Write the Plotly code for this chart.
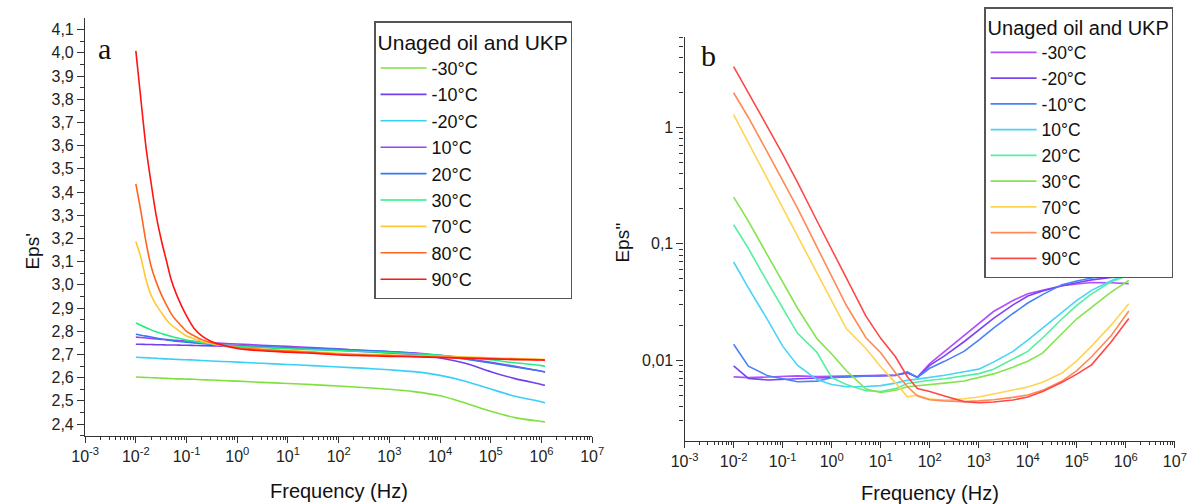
import plotly.graph_objects as go

# ---------------- Panel a : Eps' ----------------
FREQ_A = [0.01, 0.0125, 0.016, 0.02, 0.025, 0.032, 0.04, 0.05, 0.063, 0.08, 0.1, 0.14,
          0.2, 0.3, 0.5, 1, 3, 10, 30, 100, 300, 1000, 3000, 1e4, 3e4, 1e5, 3e5, 1e6, 1.17e6]

A_M30 = [2.603, 2.602, 2.601, 2.600, 2.599, 2.598, 2.597, 2.596, 2.595, 2.595, 2.594, 2.593,
         2.591, 2.590, 2.588, 2.585, 2.580, 2.575, 2.570, 2.564, 2.558, 2.550, 2.540, 2.522,
         2.492, 2.455, 2.428, 2.411, 2.409]
A_M10 = [2.744, 2.744, 2.743, 2.743, 2.742, 2.742, 2.741, 2.741, 2.741, 2.740, 2.740, 2.739,
         2.738, 2.737, 2.736, 2.734, 2.731, 2.727, 2.723, 2.718, 2.713, 2.707, 2.700, 2.685,
         2.663, 2.626, 2.596, 2.571, 2.567]
A_M20 = [2.688, 2.687, 2.686, 2.685, 2.684, 2.682, 2.681, 2.680, 2.679, 2.678, 2.677, 2.676,
         2.674, 2.672, 2.670, 2.667, 2.662, 2.657, 2.652, 2.646, 2.641, 2.634, 2.626, 2.610,
         2.586, 2.551, 2.520, 2.496, 2.491]
A_P10 = [2.775, 2.773, 2.771, 2.769, 2.767, 2.765, 2.764, 2.762, 2.761, 2.759, 2.758, 2.756,
         2.754, 2.751, 2.748, 2.745, 2.740, 2.735, 2.730, 2.724, 2.717, 2.712, 2.707, 2.696,
         2.683, 2.666, 2.649, 2.628, 2.625]
A_P20 = [2.787, 2.783, 2.779, 2.775, 2.771, 2.767, 2.763, 2.760, 2.757, 2.755, 2.753, 2.750,
         2.747, 2.744, 2.741, 2.738, 2.734, 2.730, 2.726, 2.722, 2.718, 2.713, 2.705, 2.695,
         2.681, 2.663, 2.646, 2.628, 2.624]
A_P30 = [2.836, 2.826, 2.815, 2.806, 2.798, 2.790, 2.784, 2.778, 2.772, 2.767, 2.762, 2.757,
         2.751, 2.746, 2.740, 2.735, 2.730, 2.725, 2.721, 2.717, 2.713, 2.708, 2.703, 2.697,
         2.688, 2.677, 2.664, 2.652, 2.649]
A_P70 = [3.187, 3.120, 3.020, 2.955, 2.915, 2.880, 2.850, 2.827, 2.810, 2.793, 2.780, 2.768,
         2.756, 2.748, 2.739, 2.730, 2.723, 2.717, 2.712, 2.705, 2.701, 2.698, 2.695, 2.692,
         2.689, 2.686, 2.682, 2.679, 2.678]
A_P80 = [3.435, 3.320, 3.180, 3.080, 3.015, 2.957, 2.914, 2.875, 2.846, 2.822, 2.800, 2.781,
         2.764, 2.752, 2.741, 2.730, 2.721, 2.715, 2.709, 2.702, 2.698, 2.695, 2.692, 2.689,
         2.686, 2.683, 2.680, 2.677, 2.676]
A_P90 = [4.008, 3.805, 3.586, 3.439, 3.303, 3.190, 3.105, 3.021, 2.960, 2.908, 2.866, 2.813,
         2.780, 2.757, 2.741, 2.726, 2.716, 2.710, 2.705, 2.698, 2.695, 2.692, 2.690, 2.687,
         2.684, 2.681, 2.678, 2.676, 2.675]

A_NAMES = ["-30°C", "-10°C", "-20°C", "10°C", "20°C", "30°C", "70°C", "80°C", "90°C"]
A_SERIES = [A_M30, A_M10, A_M20, A_P10, A_P20, A_P30, A_P70, A_P80, A_P90]
A_COLORS = ["#80e040", "#7040f0", "#38d0f8", "#a040f0", "#3878f0", "#20f080",
            "#ffc830", "#ff6420", "#ff1414"]

# ---------------- Panel b : Eps'' ----------------
FREQ_B = [0.01, 0.02, 0.05, 0.1, 0.2, 0.5, 1, 2, 5, 10, 20, 35, 56, 100, 200, 500,
          1000, 2000, 5000, 1e4, 2e4, 5e4, 1e5, 2e5, 5e5, 1.15e6]

B_M30 = [0.00719, 0.00708, 0.00716, 0.00724, 0.00733, 0.00724, 0.00728, 0.00733, 0.00736,
         0.00741, 0.00746, 0.00776, 0.00716, 0.00933, 0.0119, 0.0163, 0.0207, 0.0262,
         0.0326, 0.0372, 0.0398, 0.0437, 0.0452, 0.0465, 0.0463, 0.0455]
B_M20 = [0.00893, 0.00697, 0.00676, 0.00684, 0.00700, 0.00711, 0.00716, 0.00724, 0.00730,
         0.00733, 0.00738, 0.00785, 0.00708, 0.00902, 0.0109, 0.0144, 0.0182, 0.0229,
         0.0299, 0.0356, 0.0394, 0.0437, 0.0463, 0.0490, 0.0513, 0.0526]
B_M10 = [0.0137, 0.00887, 0.00733, 0.00692, 0.00653, 0.00661, 0.00705, 0.00719, 0.00733,
         0.00738, 0.00741, 0.00794, 0.00710, 0.00851, 0.00977, 0.0119, 0.0149, 0.0189,
         0.0252, 0.0310, 0.0366, 0.0446, 0.0479, 0.0508, 0.0537, 0.0555]
B_P10 = [0.0698, 0.0419, 0.0220, 0.0132, 0.00906, 0.00681, 0.00617, 0.00590, 0.00593,
         0.00604, 0.00635, 0.00673, 0.00687, 0.00708, 0.00743, 0.00796, 0.00837, 0.00962,
         0.0119, 0.0149, 0.0188, 0.0258, 0.0327, 0.0398, 0.0481, 0.0555]
B_P20 = [0.146, 0.0914, 0.0461, 0.0278, 0.0171, 0.0117, 0.00708, 0.00617, 0.00547,
         0.00537, 0.00569, 0.00631, 0.00653, 0.00673, 0.00693, 0.00729, 0.00766, 0.00837,
         0.0102, 0.0119, 0.0155, 0.0227, 0.0296, 0.0372, 0.0472, 0.0537]
B_P30 = [0.252, 0.157, 0.0787, 0.0470, 0.0281, 0.0153, 0.0113, 0.00810, 0.00564,
         0.00528, 0.00552, 0.00590, 0.00601, 0.00610, 0.00635, 0.00661, 0.00705, 0.00762,
         0.00871, 0.00980, 0.0115, 0.0169, 0.0227, 0.0285, 0.0384, 0.0486]
B_P70 = [1.29, 0.743, 0.360, 0.206, 0.119, 0.0564, 0.0324, 0.0186, 0.0126, 0.00879,
         0.00638, 0.00484, 0.00501, 0.00462, 0.00454, 0.00466, 0.00483, 0.00513, 0.00553,
         0.00587, 0.00646, 0.00776, 0.00986, 0.0132, 0.0200, 0.0306]
B_P80 = [1.99, 1.22, 0.603, 0.354, 0.204, 0.0940, 0.0526, 0.0295, 0.0156, 0.0116,
         0.00780, 0.00593, 0.00491, 0.00457, 0.00447, 0.00440, 0.00447, 0.00457, 0.00479,
         0.00501, 0.00550, 0.00661, 0.00813, 0.0107, 0.0162, 0.0265]
B_P90 = [3.34, 2.00, 1.00, 0.590, 0.340, 0.158, 0.0910, 0.0508, 0.0239, 0.0154, 0.0107,
         0.00720, 0.00571, 0.00537, 0.00491, 0.00440, 0.00430, 0.00437, 0.00454, 0.00482,
         0.00537, 0.00646, 0.00759, 0.00912, 0.0143, 0.0228]

B_NAMES = ["-30°C", "-20°C", "-10°C", "10°C", "20°C", "30°C", "70°C", "80°C", "90°C"]
B_SERIES = [B_M30, B_M20, B_M10, B_P10, B_P20, B_P30, B_P70, B_P80, B_P90]
B_COLORS = ["#b050ff", "#7a44f2", "#4a80f8", "#48d4f8", "#52f0a0", "#84e450",
            "#ffd450", "#ff8a55", "#ff4848"]

# ---------------- tick labels ----------------
X_TICKVALS = [1e-3, 1e-2, 1e-1, 1, 10, 100, 1e3, 1e4, 1e5, 1e6, 1e7]
X_TICKTEXT = ["10<sup>-3</sup>", "10<sup>-2</sup>", "10<sup>-1</sup>", "10<sup>0</sup>",
              "10<sup>1</sup>", "10<sup>2</sup>", "10<sup>3</sup>", "10<sup>4</sup>",
              "10<sup>5</sup>", "10<sup>6</sup>", "10<sup>7</sup>"]
A_YTICKVALS = [2.4, 2.5, 2.6, 2.7, 2.8, 2.9, 3.0, 3.1, 3.2, 3.3, 3.4, 3.5, 3.6, 3.7, 3.8,
               3.9, 4.0, 4.1]
A_YTICKTEXT = ["2,4", "2,5", "2,6", "2,7", "2,8", "2,9", "3,0", "3,1", "3,2", "3,3", "3,4",
               "3,5", "3,6", "3,7", "3,8", "3,9", "4,0", "4,1"]
B_YTICKVALS = [0.01, 0.1, 1]
B_YTICKTEXT = ["0,01", "0,1", "1"]

W, H = 1203, 504
SANS = "Liberation Sans, Arial, sans-serif"
SERIF = "Liberation Serif, Times New Roman, serif"

fig = go.Figure()
for name, ys, col in zip(A_NAMES, A_SERIES, A_COLORS):
    fig.add_trace(go.Scatter(x=FREQ_A, y=ys, name=name, mode="lines",
                             line=dict(color=col, width=1.6, shape="spline", smoothing=0.8),
                             xaxis="x", yaxis="y", legend="legend"))
for name, ys, col in zip(B_NAMES, B_SERIES, B_COLORS):
    fig.add_trace(go.Scatter(x=FREQ_B, y=ys, name=name, mode="lines",
                             line=dict(color=col, width=1.6),
                             xaxis="x2", yaxis="y2", legend="legend2"))

minor_log_x = [k * 10.0 ** e for e in range(-3, 7) for k in range(2, 10)]
minor_log_y = [k * 10.0 ** e for e in range(-3, 1) for k in range(2, 10)]
minor_lin_y = [2.35 + 0.1 * i for i in range(18)]

axis_common = dict(showline=True, linecolor="#333", linewidth=1.3, ticks="outside",
                   tickcolor="#333", tickwidth=1.2, showgrid=False, zeroline=False,
                   tickfont=dict(family=SANS, size=16, color="#222"))


def ann(text, x, y, size, family=SANS, angle=0):
    return dict(text=text, x=x / W, y=1 - y / H, xref="paper", yref="paper",
                xanchor="center", yanchor="middle", showarrow=False, textangle=angle,
                font=dict(family=family, size=size, color="#111"))


fig.update_layout(
    width=W, height=H, margin=dict(l=0, r=0, t=0, b=0),
    paper_bgcolor="white", plot_bgcolor="white", showlegend=True,
    xaxis=dict(type="log", range=[-3, 7], domain=[72.7 / W, 591 / W], anchor="y",
               tickvals=X_TICKVALS, ticktext=X_TICKTEXT, ticklen=6,
               minor=dict(tickvals=minor_log_x, ticks="outside", ticklen=3,
                          tickcolor="#333", showgrid=False),
               **axis_common),
    yaxis=dict(range=[2.35, 4.15], domain=[1 - 435.7 / H, 1 - 18 / H], anchor="x",
               tickvals=A_YTICKVALS, ticktext=A_YTICKTEXT, ticklen=7,
               minor=dict(tickvals=minor_lin_y, ticks="outside", ticklen=4,
                          tickcolor="#333", showgrid=False),
               **axis_common),
    xaxis2=dict(type="log", range=[-3, 7], domain=[685.4 / W, 1186.5 / W], anchor="y2",
                tickvals=X_TICKVALS, ticktext=X_TICKTEXT, ticklen=6,
                minor=dict(tickvals=minor_log_x, ticks="outside", ticklen=3,
                           tickcolor="#333", showgrid=False),
                **axis_common),
    yaxis2=dict(type="log", range=[-2.695, 0.781], domain=[1 - 441 / H, 1 - 36.7 / H],
                anchor="x2", tickvals=B_YTICKVALS, ticktext=B_YTICKTEXT, ticklen=7,
                minor=dict(tickvals=minor_log_y, ticks="outside", ticklen=4,
                           tickcolor="#333", showgrid=False),
                **axis_common),
    legend=dict(x=368 / W, y=1 - 21 / H, xanchor="left", yanchor="top",
                bgcolor="white", bordercolor="#555", borderwidth=1.5,
                font=dict(family=SANS, size=18, color="#111"), itemwidth=46,
                title=dict(text="Unaged oil and UKP", font=dict(family=SANS, size=21, color="#111"))),
    legend2=dict(x=991.5 / W, y=1 - 7 / H, xanchor="left", yanchor="top",
                 bgcolor="white", bordercolor="#555", borderwidth=1.5,
                 font=dict(family=SANS, size=17.5, color="#111"), itemwidth=46,
                 title=dict(text="Unaged oil and UKP", font=dict(family=SANS, size=20, color="#111"))),
    annotations=[
        ann("a", 92, 49, 30, SERIF),
        ann("b", 710, 55, 30, SERIF),
        ann("Eps'", 18, 252, 19, angle=-90),
        ann("Eps''", 621, 243, 19, angle=-90),
        ann("Frequency (Hz)", 332, 491, 20),
        ann("Frequency (Hz)", 936, 493, 20),
    ],
)

fig.write_html("out.html", config={"displayModeBar": False},
               post_script="document.body.style.margin='0px';")
